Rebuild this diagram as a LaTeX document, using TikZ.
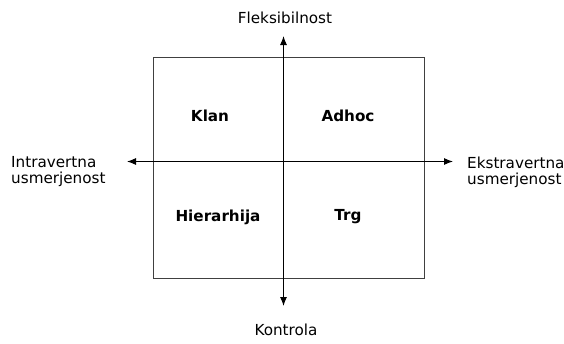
\documentclass[tikz,border=0pt]{standalone}
\usepackage{fontspec}
\setmainfont{DejaVu Sans}
\usetikzlibrary{arrows.meta}
\begin{document}
\begin{tikzpicture}[x=1pt, y=-1pt, >={Latex[length=9pt,width=7pt]},
    every node/.style={font=\fontsize{15.2}{16}\selectfont, inner sep=0pt},
    quadrant/.style={font=\fontsize{15.2}{16}\selectfont\bfseries}]
            \useasboundingbox (0, 0) rectangle (564, 343);
            \draw[line width=1.4pt, black!75] (153.5, 57.5) rectangle (424.5, 278.5);

            \coordinate (top) at (283.5, 36);
            \coordinate (bottom) at (283.5, 306);
            \coordinate (left) at (127, 161.5);
            \coordinate (right) at (453, 161.5);
            \draw[<->, line width=1pt] (bottom) -- (top);
            \draw[<->, line width=1pt] (left) -- (right);

            \node (flex) at (285, 18) {Fleksibilnost};
            \node (ctrl) at (286, 330) {Kontrola};
            \node (intra) [anchor=west, align=left] at (11, 172) {Intravertna\\usmerjenost};
            \node (ekstra) [anchor=west, align=left] at (467, 172) {Ekstravertna\\usmerjenost};

            \node (klan) [quadrant] at (210, 116) {Klan};
            \node (adhoc) [quadrant] at (348, 116) {Adhoc};
            \node (hier) [quadrant] at (218, 217) {Hierarhija};
            \node (trg) [quadrant] at (348, 217) {Trg};
        \end{tikzpicture}
\end{document}
